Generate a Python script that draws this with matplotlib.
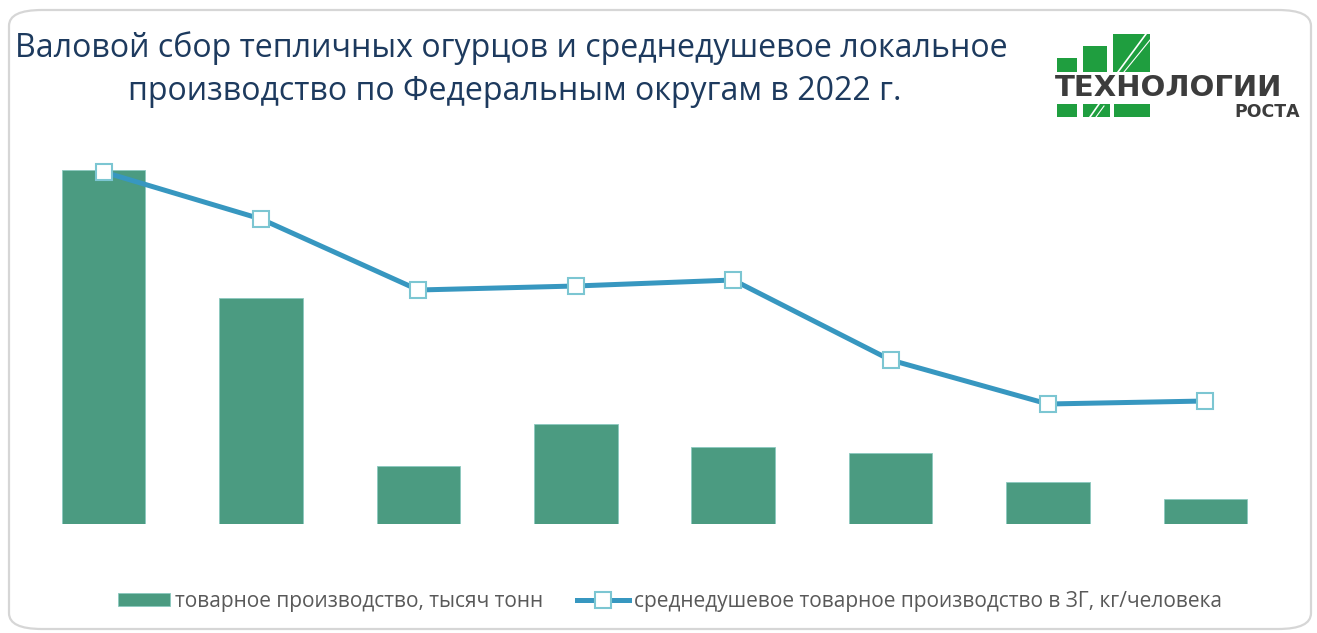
import matplotlib.pyplot as plt
from matplotlib.patches import Rectangle, FancyBboxPatch

# federal districts (no labels shown on the chart)
districts = ["ЦФО", "ПФО", "СЗФО", "ЮФО", "СФО", "УФО", "ДФО", "СКФО"]
production = [297, 190, 49, 84, 65, 60, 35, 21]          # тысяч тонн
per_capita = [7.04, 6.10, 4.68, 4.76, 4.88, 3.28, 2.40, 2.46]  # кг/человека

bar_color = "#4b9b81"
line_color = "#3797c0"
title_color = "#1d3a5e"
logo_green = "#1f9e3f"

W, H = 1317, 633
fig = plt.figure(figsize=(W / 100, H / 100), dpi=100)

# frame with rounded corners
fig.patches.append(FancyBboxPatch((9 / W, 4 / H), 1302 / W, 619 / H,
                                  boxstyle="round,pad=0,rounding_size=0.025",
                                  transform=fig.transFigure, fill=False,
                                  edgecolor="#d6d6d6", linewidth=1.6))

ax = fig.add_axes([25 / W, (H - 524) / H, 1259 / W, 374 / H])
x = list(range(len(districts)))
bars = ax.bar(x, production, width=0.53, color=bar_color, edgecolor="#8cc9c0",
              linewidth=0.6, label="товарное производство, тысяч тонн")
ax.set_xlim(-0.5, 7.5)
ax.set_ylim(0, 314)
ax.axis("off")

ax2 = ax.twinx()
line, = ax2.plot(x, per_capita, color=line_color, linewidth=3.6, marker="s",
                 markersize=12, markerfacecolor="white", markeredgecolor="#7cc6d2",
                 markeredgewidth=1.5,
                 label="среднедушевое товарное производство в ЗГ, кг/человека")
ax2.set_ylim(0, 7.48)
ax2.axis("off")

fig.legend(handles=[bars, line], loc="center", bbox_to_anchor=(670 / W, 1 - 601 / H),
           ncol=2, frameon=False, handlelength=2.5, handleheight=0.6,
           handletextpad=0.25, columnspacing=1.6, labelcolor="#595959",
           prop={"family": "Open Sans", "size": 15})

fig.text(511 / W, 1 - 48 / H, "Валовой сбор тепличных огурцов и среднедушевое локальное",
         ha="center", va="center", fontsize=23.1, color=title_color, family="Open Sans")
fig.text(515 / W, 1 - 92 / H, "производство по Федеральным округам в 2022 г.",
         ha="center", va="center", fontsize=23.1, color=title_color, family="Open Sans")

# logo "Технологии роста"
lax = fig.add_axes([0, 0, 1, 1], zorder=5)
lax.set_xlim(0, W)
lax.set_ylim(H, 0)
lax.axis("off")
for x0, y0, x1, y1 in [(1057, 58, 1077, 72), (1083, 46, 1107, 72), (1113, 34, 1150, 72),
                       (1057, 104, 1077, 117), (1083, 104, 1110, 117), (1114, 104, 1150, 117)]:
    lax.add_patch(Rectangle((x0, y0), x1 - x0, y1 - y0, color=logo_green, linewidth=0))
lax.plot([1118, 1146], [72, 34], color="white", linewidth=1.2)
lax.plot([1124, 1150], [72, 40], color="white", linewidth=0.8)
lax.plot([1090, 1099], [117, 104], color="white", linewidth=1.2)
lax.plot([1096, 1104], [117, 106], color="white", linewidth=0.8)
lax.text(1055, 96, "ТЕХНОЛОГИИ", ha="left", va="baseline", fontsize=21,
         fontweight="bold", color="#3c3c3c", family="DejaVu Sans")
lax.text(1300, 117, "РОСТА", ha="right", va="baseline", fontsize=12.5,
         fontweight="bold", color="#3c3c3c", family="DejaVu Sans")

fig.savefig("out.png", dpi=100)
